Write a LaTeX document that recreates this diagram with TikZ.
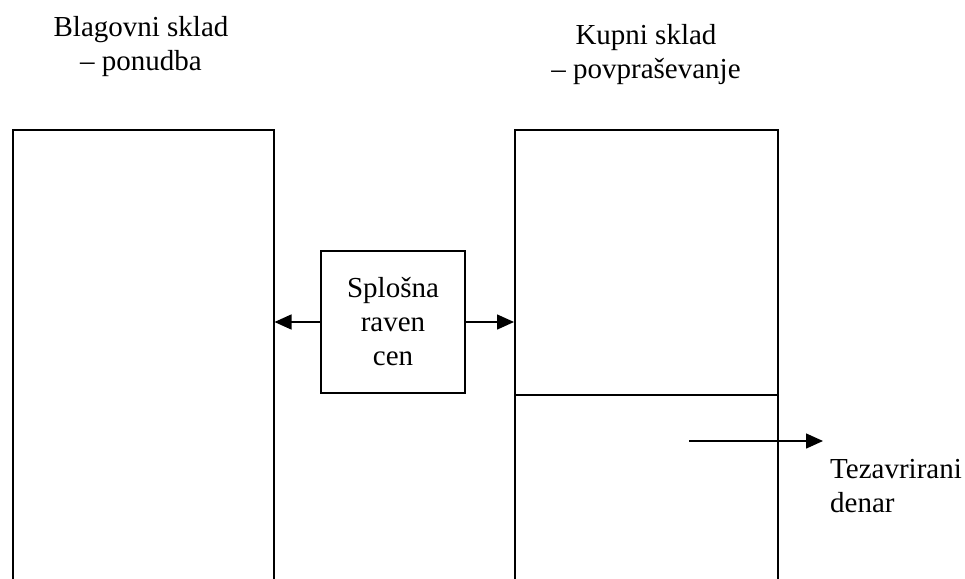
\documentclass[tikz,border=0pt]{standalone}
\usepackage{fontspec}
\setmainfont{Liberation Serif}
\usetikzlibrary{arrows.meta}
\tikzset{
  stock/.style={draw, line width=1.5pt, inner sep=0pt, anchor=north west},
  txt/.style={font=\fontsize{29}{34}\selectfont, inner sep=0pt},
  flow/.style={line width=1.5pt, -{Triangle[length=17pt,width=15pt]}}
}
\begin{document}
\begin{tikzpicture}[x=1pt,y=-1pt]
    \useasboundingbox (0,0) rectangle (965,578);
    % two stocks, open at the bottom edge
    \node[stock, minimum width=261pt, minimum height=480pt] (goods) at (12,129) {};
    \node[stock, minimum width=263pt, minimum height=265pt] (money) at (514,129) {};
    \node[stock, minimum width=263pt, minimum height=215pt] (hoard) at (514,394) {};
    \node[txt, align=center] (goodsname) at (141,47) {Blagovni sklad\\– ponudba};
    \node[txt, align=center] (moneyname) at (646,55) {Kupni sklad\\– povpraševanje};
    % price level in between
    \node[draw, line width=1.5pt, txt, align=center, minimum width=144pt, minimum height=142pt] (price) at (393,322) {Splošna\\raven\\cen};
    \draw[flow] (price.west) -- (price.west -| goods.east);
    \draw[flow] (price.east) -- (price.east -| money.west);
    % hoarded money leaves
    \coordinate (out) at (689,441);
    \coordinate (outend) at (823,441);
    \node[txt, align=left, anchor=west] (hoardname) at (830,486) {Tezavrirani\\denar};
    \draw[flow] (out) -- (outend);
\end{tikzpicture}
\end{document}
